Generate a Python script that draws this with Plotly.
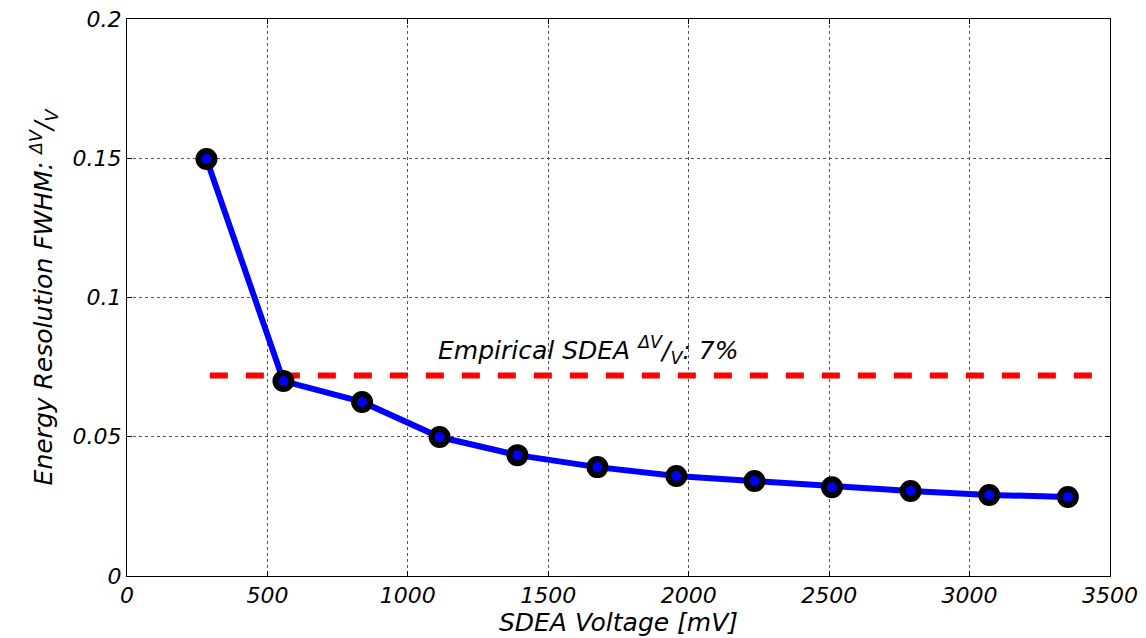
import plotly.graph_objects as go

voltage_mv = [283, 557, 837, 1113, 1390, 1675, 1956, 2234, 2510, 2790, 3070, 3350]
resolution = [0.1497, 0.0700, 0.0625, 0.0499, 0.0434, 0.0391, 0.0359, 0.0341, 0.0319, 0.0305, 0.0291, 0.0284]
empirical_x = [295, 3488]
empirical_y = [0.072, 0.072]

font_fam = "DejaVu Sans, Arial, sans-serif"

fig = go.Figure()
fig.add_trace(go.Scatter(
    x=empirical_x, y=empirical_y, mode="lines",
    line=dict(color="#ff0000", width=6, dash="dash"), showlegend=False))
fig.add_trace(go.Scatter(
    x=voltage_mv, y=resolution, mode="lines+markers",
    line=dict(color="#0000ff", width=6),
    marker=dict(size=16, color="#0000ff", line=dict(color="black", width=6)),
    showlegend=False))

fig.add_annotation(
    x=1100, y=0.081, xanchor="left", yanchor="middle",
    text="<i>Empirical SDEA <sup>ΔV</sup>/<sub>V</sub>: 7%</i>",
    showarrow=False, font=dict(family=font_fam, size=25, color="black"))

axis_common = dict(
    showline=True, linecolor="black", linewidth=1, mirror="allticks",
    showgrid=True, gridcolor="#555555", griddash="dot", gridwidth=1,
    ticks="inside", ticklen=5, tickcolor="black",
    zeroline=False, automargin=False,
    tickfont=dict(family=font_fam, size=22, color="black", style="italic"),
)

fig.update_layout(
    width=1146, height=638,
    margin=dict(l=127, r=36, t=19, b=62),
    plot_bgcolor="white", paper_bgcolor="white",
    xaxis=dict(range=[0, 3500], dtick=500, tickformat="d",
               title=dict(text="<i>SDEA Voltage [mV]</i>", standoff=4,
                          font=dict(family=font_fam, size=25, color="black")),
               **axis_common),
    yaxis=dict(range=[0, 0.2], dtick=0.05, tickformat="",
               title=dict(text="<i>Energy Resolution FWHM: <sup>ΔV</sup>/<sub>V</sub></i>", standoff=12,
                          font=dict(family=font_fam, size=25, color="black")),
               **axis_common),
)

fig.write_html("out.html")
